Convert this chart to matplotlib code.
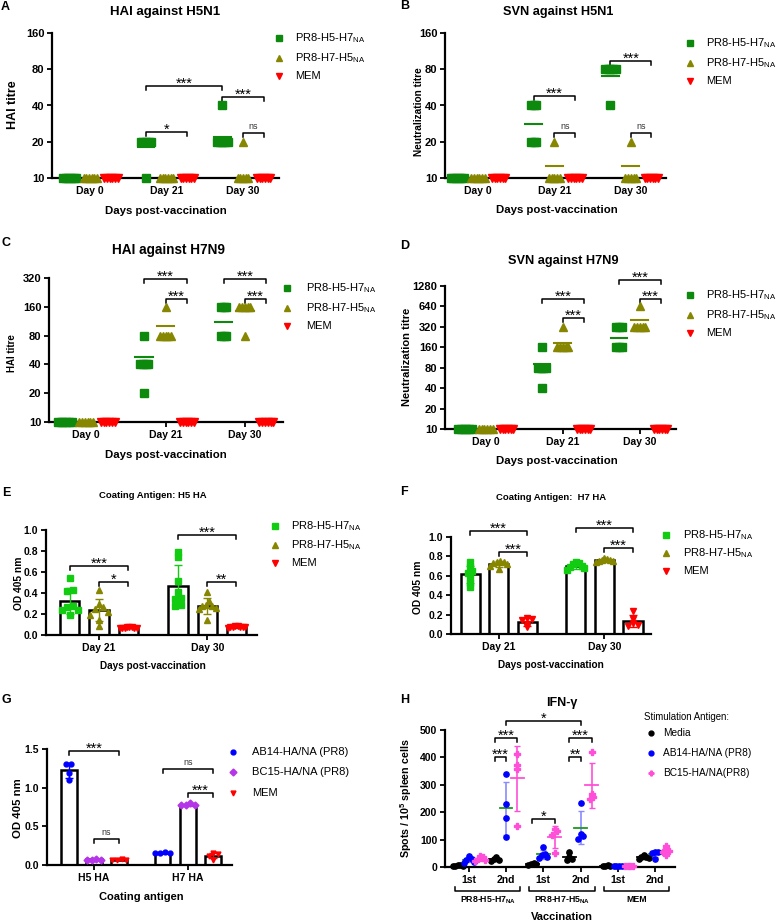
import numpy as np
import matplotlib
matplotlib.use('Agg')
import matplotlib.pyplot as plt
from matplotlib.lines import Line2D
from matplotlib.ticker import NullLocator

plt.rcParams['font.family'] = ['Liberation Sans', 'DejaVu Sans']
plt.rcParams['mathtext.fontset'] = 'custom'
plt.rcParams['mathtext.rm'] = 'Liberation Sans'
plt.rcParams['mathtext.bf'] = 'Liberation Sans:bold'

# ---- data ----
days = ['Day 0', 'Day 21', 'Day 30']
groups = ['PR8-H5-H7$_{\\mathregular{NA}}$', 'PR8-H7-H5$_{\\mathregular{NA}}$', 'MEM']

# A: HAI against H5N1
a_h5h7 = [[10] * 6, [20, 20, 20, 20, 20, 10], [40, 20, 20, 20, 20, 20]]
a_h7h5 = [[10] * 6, [10] * 6, [20, 10, 10, 10, 10, 10]]
a_mem = [[10] * 6, [10] * 6, [10] * 6]
a_means = [[10, 18, 22], [10, 10, 10], [10, 10, 10]]

# B: SVN against H5N1
b_h5h7 = [[10] * 6, [40, 40, 40, 20, 20, 20], [80, 80, 80, 80, 80, 40]]
b_h7h5 = [[10] * 6, [20, 10, 10, 10, 10, 10], [20, 10, 10, 10, 10, 10]]
b_mem = [[10] * 6, [10] * 6, [10] * 6]
b_means = [[10, 28, 70], [10, 12.6, 12.6], [10, 10, 10]]

# C: HAI against H7N9
c_h5h7 = [[10] * 6, [80, 40, 40, 40, 40, 20], [160, 160, 160, 80, 80, 80]]
c_h7h5 = [[10] * 6, [160, 80, 80, 80, 80, 80], [160, 160, 160, 160, 160, 80]]
c_mem = [[10] * 6, [10] * 6, [10] * 6]
c_means = [[10, 48, 110], [10, 100, 145], [10, 10, 10]]

# D: SVN against H7N9
d_h5h7 = [[10] * 6, [160, 80, 80, 80, 80, 40], [320, 320, 320, 160, 160, 160]]
d_h7h5 = [[10] * 6, [320, 160, 160, 160, 160, 160], [640, 320, 320, 320, 320, 320]]
d_mem = [[10] * 6, [10] * 6, [10] * 6]
d_means = [[10, 92, 222], [10, 183, 400], [10, 10, 10]]

# E / F: ELISA OD 405 nm
elisa_days = ['Day 21', 'Day 30']
e_h5h7 = [[0.54, 0.43, 0.42, 0.28, 0.27, 0.24, 0.24, 0.19],
          [0.79, 0.74, 0.51, 0.41, 0.35, 0.34, 0.29, 0.28]]
e_h7h5 = [[0.43, 0.30, 0.27, 0.25, 0.22, 0.19, 0.14, 0.09],
          [0.41, 0.32, 0.29, 0.28, 0.28, 0.26, 0.25, 0.14]]
e_mem = [[0.08, 0.07, 0.07, 0.075, 0.07, 0.08, 0.07, 0.065],
         [0.09, 0.08, 0.08, 0.075, 0.08, 0.085, 0.08, 0.07]]

f_h5h7 = [[0.74, 0.69, 0.65, 0.63, 0.58, 0.53, 0.48],
          [0.74, 0.73, 0.72, 0.70, 0.69, 0.68, 0.66]]
f_h7h5 = [[0.75, 0.74, 0.74, 0.73, 0.72, 0.70, 0.67],
          [0.78, 0.77, 0.76, 0.76, 0.75, 0.75, 0.74]]
f_mem = [[0.16, 0.15, 0.14, 0.10, 0.07],
         [0.24, 0.15, 0.11, 0.08, 0.09]]

# G: coating antigen
g_cats = ['H5 HA', 'H7 HA']
g_labels = ['AB14-HA/NA (PR8)', 'BC15-HA/NA (PR8)', 'MEM']
g_ab14 = [[1.31, 1.30, 1.19, 1.10], [0.17, 0.16, 0.16, 0.15]]
g_bc15 = [[0.08, 0.07, 0.07, 0.07], [0.80, 0.78, 0.77, 0.77]]
g_mem = [[0.08, 0.07, 0.07, 0.06], [0.15, 0.14, 0.12, 0.07]]

# H: IFN-gamma ELISpot
h_cats = ['1st', '2nd', '1st', '2nd', '1st', '2nd']
h_groups = ['PR8-H5-H7$_{\\mathbf{NA}}$', 'PR8-H7-H5$_{\\mathbf{NA}}$', 'MEM']
h_labels = ['Media', 'AB14-HA/NA (PR8)', 'BC15-HA/NA(PR8)']
h_media = [[5, 6, 4, 8, 5], [35, 30, 25, 22], [12, 10, 8, 14], [55, 38, 30, 27],
           [5, 4, 6, 3], [42, 38, 35, 33, 30]]
h_ab14 = [[40, 30, 27, 20, 15], [340, 231, 178, 110], [73, 48, 35, 32, 42],
          [233, 121, 114, 103], [3, 2, 4, 3], [55, 53, 52, 30]]
h_bc15 = [[40, 35, 30, 25, 22], [413, 372, 357, 150], [138, 130, 118, 52],
          [421, 268, 255, 250], [4, 3, 5, 2], [78, 65, 60, 55, 42]]

# ---- style ----
GREEN = '#0d8a0d'
LIME = '#12cc12'
OLIVE = '#868600'
RED = '#ff0000'
BLUE = '#0000ff'
PURPLE = '#b436e8'
PINK = '#ff4fd8'
titre_colors = [GREEN, OLIVE, RED]
elisa_colors = [LIME, OLIVE, RED]
tri_markers = ['s', '^', 'v']
off3 = np.array([-0.27, 0.0, 0.27])

W, H = 777, 922
fig = plt.figure(figsize=(W / 100, H / 100), dpi=100)


def fx(x):
    return x / W


def fy(y):
    return 1 - y / H


def ptext(x, y, s, **kw):
    kw.setdefault('ha', 'center')
    kw.setdefault('va', 'center')
    fig.text(fx(x), fy(y), s, **kw)


def add_ax(box):
    l, t, r, b = box
    ax = fig.add_axes([fx(l), fy(b), (r - l) / W, (b - t) / H])
    for s in ['top', 'right']:
        ax.spines[s].set_visible(False)
    for s in ['left', 'bottom']:
        ax.spines[s].set_linewidth(1.6)
    ax.tick_params(width=1.3, length=3.5, pad=2)
    return ax


def px2ax(box, x, y):
    l, t, r, b = box
    return (x - l) / (r - l), (b - y) / (b - t)


def set_labels(ax, box, xlabel, xpos, xfs, ylabel, ypos, yfs):
    ax.set_xlabel(xlabel, fontsize=xfs, fontweight='bold')
    ax.xaxis.label.set_va('center')
    ax.xaxis.set_label_coords(*px2ax(box, *xpos))
    ax.set_ylabel(ylabel, fontsize=yfs, fontweight='bold')
    ax.yaxis.label.set_va('center')
    ax.yaxis.set_label_coords(*px2ax(box, *ypos))


def spread(vals, tol, step, maxw=1.0):
    # horizontal scatter for points sharing (nearly) the same value
    v = np.asarray(vals, float)
    order = np.argsort(v, kind='stable')
    dx = np.zeros(len(v))
    clusters = [[order[0]]]
    for a, b in zip(order[:-1], order[1:]):
        if v[b] - v[a] <= tol:
            clusters[-1].append(b)
        else:
            clusters.append([b])
    for c in clusters:
        k = len(c)
        if k < 2:
            continue
        s = min(step, maxw / (k - 1))
        pos = (np.arange(k) - (k - 1) / 2) * s
        idx, lo, hi = [], 0, k - 1
        while lo <= hi:
            idx.append(lo)
            if lo != hi:
                idx.append(hi)
            lo += 1
            hi -= 1
        dx[c] = pos[idx]
    return dx


def bracket(ax, box, x1, x2, yf, text, drop=4):
    h = box[3] - box[1]
    tr = ax.get_xaxis_transform()
    ax.plot([x1, x1, x2, x2], [yf - drop / h, yf, yf, yf - drop / h],
            color='black', lw=1.1, transform=tr, clip_on=False)
    if text == 'ns':
        ax.text((x1 + x2) / 2, yf + 4 / h, text, transform=tr, ha='center',
                va='baseline', fontsize=6.5, color='#333333')
    else:
        ax.text((x1 + x2) / 2, yf - 1.5 / h, text, transform=tr, ha='center',
                va='baseline', fontsize=10.5)


def key(items, mx, tx, ys, ms, fs=8):
    for (lab, color, marker), y in zip(items, ys):
        fig.add_artist(Line2D([fx(mx)], [fy(y)], marker=marker, color=color, ms=ms,
                              ls='none', transform=fig.transFigure))
        ptext(tx, y, lab, ha='left', fontsize=fs)


def titre_panel(box, series, means, ymax, yticks, xlim, brackets, tick_fs=8):
    ax = add_ax(box)
    ax.set_yscale('log', base=2)
    ax.set_ylim(10, ymax)
    ax.set_yticks(yticks)
    ax.set_yticklabels([str(t) for t in yticks], fontsize=tick_fs, fontweight='bold')
    ax.yaxis.set_minor_locator(NullLocator())
    ax.set_xlim(*xlim)
    ax.set_xticks(range(len(days)))
    ax.set_xticklabels(days, fontsize=tick_fs - 0.5, fontweight='bold')
    for j, (vals_by_day, mean_by_day) in enumerate(zip(series, means)):
        for d, (vals, mn) in enumerate(zip(vals_by_day, mean_by_day)):
            x = d + off3[j]
            ax.plot(x + spread(vals, 0, 0.035), vals, ls='none', marker=tri_markers[j],
                    ms=5.5, color=titre_colors[j], clip_on=False, zorder=3)
            ax.plot([x - 0.11, x + 0.11], [mn, mn], color=titre_colors[j], lw=1.5,
                    clip_on=False, zorder=2)
    for d1, s1, d2, s2, yf, txt in brackets:
        bracket(ax, box, d1 + off3[s1], d2 + off3[s2], yf, txt)
    return ax


def bar_panel(box, series, colors, markers, ms, cats, ylim, yticks, xlim, width,
              brackets, tol, step):
    ax = add_ax(box)
    ax.set_xlim(*xlim)
    ax.set_ylim(*ylim)
    ax.set_yticks(yticks)
    ax.set_yticklabels([f'{t:.1f}' for t in yticks], fontsize=7.5, fontweight='bold')
    ax.set_xticks(range(len(cats)))
    ax.set_xticklabels(cats, fontsize=7.5, fontweight='bold')
    for j, vals_by_cat in enumerate(series):
        for i, vals in enumerate(vals_by_cat):
            x = i + off3[j]
            m = np.mean(vals)
            sd = np.std(vals, ddof=1)
            ax.bar(x, m, width, color='white', edgecolor='black', linewidth=1.8, zorder=1)
            ax.errorbar(x, m, yerr=sd, color=colors[j], capsize=3, elinewidth=1,
                        capthick=1, zorder=2)
            ax.plot(x + spread(vals, tol, step, width * 0.9), vals, ls='none',
                    marker=markers[j], ms=ms, color=colors[j], zorder=3, clip_on=False)
    for c1, s1, c2, s2, yf, txt in brackets:
        bracket(ax, box, c1 + off3[s1], c2 + off3[s2], yf, txt)
    return ax


titre_items = list(zip(groups, titre_colors, tri_markers))
elisa_items = list(zip(groups, elisa_colors, tri_markers))

# ---- A ----
box = (52, 33, 279, 178)
ax = titre_panel(box, [a_h5h7, a_h7h5, a_mem], a_means, 160, [10, 20, 40, 80, 160],
                 (-0.5, 2.47),
                 [(1, 0, 2, 0, 0.634, '***'), (1, 0, 1, 2, 0.317, '*'),
                  (2, 0, 2, 2, 0.559, '***'), (2, 1, 2, 2, 0.31, 'ns')])
set_labels(ax, box, 'Days post-vaccination', (166, 211), 8.2, 'HAI titre', (13, 105), 9)
ptext(165, 12, 'HAI against H5N1', fontsize=9.5, fontweight='bold')
ptext(1, 7, 'A', ha='left', fontsize=9, fontweight='bold')
key(titre_items, 279, 295, [38, 58, 76], 5)

# ---- B ----
box = (445, 33, 666, 178)
ax = titre_panel(box, [b_h5h7, b_h7h5, b_mem], b_means, 160, [10, 20, 40, 80, 160],
                 (-0.43, 2.46),
                 [(1, 0, 1, 2, 0.566, '***'), (1, 1, 1, 2, 0.31, 'ns'),
                  (2, 0, 2, 2, 0.807, '***'), (2, 1, 2, 2, 0.31, 'ns')])
set_labels(ax, box, 'Days post-vaccination', (557, 210), 8.2, 'Neutralization titre',
           (419, 112), 7.3)
ptext(558, 12, 'SVN against H5N1', fontsize=9.2, fontweight='bold')
ptext(400, 6, 'B', ha='left', fontsize=9, fontweight='bold')
key(titre_items, 690, 706, [43, 63, 81], 5)

# ---- C ----
box = (49, 278, 283, 422)
ax = titre_panel(box, [c_h5h7, c_h7h5, c_mem], c_means, 320, [10, 20, 40, 80, 160, 320],
                 (-0.47, 2.48),
                 [(1, 0, 1, 2, 0.99, '***'), (1, 1, 1, 2, 0.855, '***'),
                  (2, 0, 2, 2, 0.99, '***'), (2, 1, 2, 2, 0.855, '***')])
set_labels(ax, box, 'Days post-vaccination', (166, 455), 8.2, 'HAI titre', (12, 353), 7)
ptext(168, 250, 'HAI against H7N9', fontsize=9.8, fontweight='bold')
ptext(2, 243, 'C', ha='left', fontsize=9, fontweight='bold')
key(titre_items, 287, 306, [288, 308, 326], 5)

# ---- D ----
box = (445, 286, 676, 429)
ax = titre_panel(box, [d_h5h7, d_h7h5, d_mem], d_means, 1280,
                 [10, 20, 40, 80, 160, 320, 640, 1280], (-0.53, 2.47),
                 [(1, 0, 1, 2, 0.909, '***'), (1, 1, 1, 2, 0.776, '***'),
                  (2, 0, 2, 2, 1.04, '***'), (2, 1, 2, 2, 0.909, '***')])
set_labels(ax, box, 'Days post-vaccination', (557, 461), 8.2, 'Neutralization titre',
           (407, 357), 8)
ptext(563, 261, 'SVN against H7N9', fontsize=9.2, fontweight='bold')
ptext(400, 246, 'D', ha='left', fontsize=9, fontweight='bold')
key(titre_items, 690, 706, [295, 315, 333], 5)

# ---- E ----
box = (46, 530, 257, 635)
ax = bar_panel(box, [e_h5h7, e_h7h5, e_mem], elisa_colors, tri_markers, 4, elisa_days,
               (0, 1.0), [0.0, 0.2, 0.4, 0.6, 0.8, 1.0], (-0.49, 1.46), 0.176,
               [(0, 0, 0, 2, 0.657, '***'), (0, 1, 0, 2, 0.505, '*'),
                (1, 0, 1, 2, 0.952, '***'), (1, 1, 1, 2, 0.505, '**')], 0.035, 0.05)
set_labels(ax, box, 'Days post-vaccination', (153, 666), 7.2, 'OD 405 nm', (19, 583), 7.4)
ptext(153, 495, 'Coating Antigen: H5 HA', fontsize=6.8, fontweight='bold')
ptext(2, 493, 'E', ha='left', fontsize=9, fontweight='bold')
key(elisa_items, 275, 291, [526, 545, 563], 4)

# ---- F ----
box = (451, 537, 651, 634)
ax = bar_panel(box, [f_h5h7, f_h7h5, f_mem], elisa_colors, tri_markers, 4, elisa_days,
               (0, 1.0), [0.0, 0.2, 0.4, 0.6, 0.8, 1.0], (-0.45, 1.44), 0.18,
               [(0, 0, 0, 2, 1.06, '***'), (0, 1, 0, 2, 0.845, '***'),
                (1, 0, 1, 2, 1.09, '***'), (1, 1, 1, 2, 0.887, '***')], 0.025, 0.045)
set_labels(ax, box, 'Days post-vaccination', (551, 665), 7.2, 'OD 405 nm', (418, 587), 7.4)
ptext(551, 498, 'Coating Antigen:  H7 HA', fontsize=6.8, fontweight='bold')
ptext(400, 492, 'F', ha='left', fontsize=9, fontweight='bold')
key(elisa_items, 666, 683, [535, 553, 571], 4)

# ---- G ----
box = (47, 749, 232, 865)
g_colors = [BLUE, PURPLE, RED]
g_markers = ['o', 'D', 'v']
ax = bar_panel(box, [g_ab14, g_bc15, g_mem], g_colors, g_markers, 3.5, g_cats,
               (0, 1.5), [0.0, 0.5, 1.0, 1.5], (-0.5, 1.47), 0.17,
               [(0, 0, 0, 2, 0.983, '***'), (0, 1, 0, 2, 0.224, 'ns'),
                (1, 0, 1, 2, 0.828, 'ns'), (1, 1, 1, 2, 0.62, '***')], 0.03, 0.05)
set_labels(ax, box, 'Coating antigen', (141, 897), 8, 'OD 405 nm', (18, 808), 8.2)
ptext(2, 700, 'G', ha='left', fontsize=9, fontweight='bold')
key(list(zip(g_labels, g_colors, g_markers)), 233, 252, [752, 772, 793], 3.5)

# ---- H ----
box = (445, 730, 675, 867)
ax = add_ax(box)
ax.set_xlim(-0.645, 5.54)
ax.set_ylim(0, 500)
ax.set_yticks(range(0, 501, 100))
ax.set_yticklabels([str(t) for t in range(0, 501, 100)], fontsize=7.5, fontweight='bold')
ax.set_xticks(range(len(h_cats)))
ax.set_xticklabels(h_cats, fontsize=7.5, fontweight='bold')
h_off = np.array([-0.3, 0.0, 0.3])
h_colors = ['black', BLUE, PINK]
h_err = ['black', '#8a8aff', PINK]
h_meanc = ['black', '#1a9a1a', PINK]
h_markers = ['o', 'o', 'P']
for j, series in enumerate([h_media, h_ab14, h_bc15]):
    for i, vals in enumerate(series):
        x = i + h_off[j]
        m = np.mean(vals)
        sd = np.std(vals, ddof=1)
        ax.errorbar(x, m, yerr=sd, color=h_err[j], capsize=2.5, elinewidth=1.2,
                    capthick=1, zorder=2)
        ax.plot([x - 0.17, x + 0.17], [m, m], color=h_meanc[j], lw=1.3, zorder=3)
        ax.plot(x + spread(vals, 12, 0.07, 0.3), vals, ls='none', marker=h_markers[j],
                ms=3.8, color=h_colors[j], zorder=4, clip_on=False)
for c1, s1, c2, s2, yf, txt in [(1, 1, 3, 1, 1.066, '*'), (1, 0, 1, 2, 0.942, '***'),
                                (1, 0, 1, 1, 0.803, '***'), (2, 0, 2, 2, 0.35, '*'),
                                (3, 0, 3, 2, 0.942, '***'), (3, 0, 3, 1, 0.803, '**')]:
    bracket(ax, box, c1 + h_off[s1], c2 + h_off[s2], yf, txt)
tr = ax.get_xaxis_transform()
hb = box[3] - box[1]
yb = -24 / hb
for k, lab in enumerate(h_groups):
    a, b = 2 * k - 0.38, 2 * k + 1 + 0.38
    ax.plot([a, a, b, b], [yb + 4 / hb, yb, yb, yb + 4 / hb], color='black', lw=1.1,
            transform=tr, clip_on=False)
    ax.text(2 * k + 0.5, -33 / hb, lab, transform=tr, ha='center', va='center',
            fontsize=6.3, fontweight='bold')
set_labels(ax, box, 'Vaccination', (562, 917), 8, 'Spots / 10$^{\\mathbf{5}}$ spleen cells',
           (406, 798), 7.7)
ptext(562, 703, 'IFN-γ', fontsize=9, fontweight='bold')
ptext(400, 700, 'H', ha='left', fontsize=9, fontweight='bold')
ptext(644, 717, 'Stimulation Antigen:', ha='left', fontsize=6.9)
key(list(zip(h_labels, h_colors, h_markers)), 651, 663, [733, 753, 773], 3.5, fs=7.3)

fig.savefig('out.png', dpi=100, facecolor='white')
